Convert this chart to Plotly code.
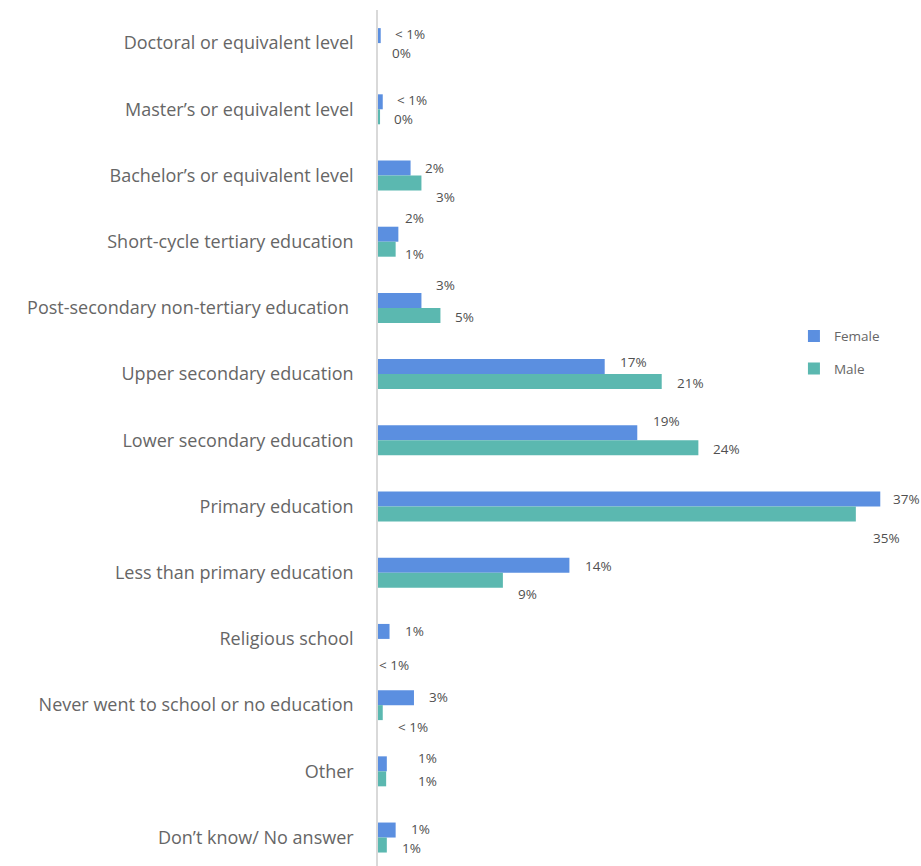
import plotly.graph_objects as go

# Highest level of education completed, by sex (% of respondents)
categories = [
    "Doctoral or equivalent level",
    "Master\u2019s or equivalent level",
    "Bachelor\u2019s or equivalent level",
    "Short-cycle tertiary education",
    "Post-secondary non-tertiary education ",
    "Upper secondary education",
    "Lower secondary education",
    "Primary education",
    "Less than primary education",
    "Religious school",
    "Never went to school or no education",
    "Other",
    "Don\u2019t know/ No answer",
]
female = [0.2, 0.35, 2.4, 1.5, 3.2, 16.7, 19.1, 37.0, 14.1, 0.85, 2.65, 0.65, 1.3]
male = [0.0, 0.15, 3.2, 1.3, 4.6, 20.9, 23.6, 35.2, 9.2, 0.0, 0.35, 0.6, 0.65]
female_labels = ["< 1%", "< 1%", "2%", "2%", "3%", "17%", "19%", "37%", "14%", "1%", "3%", "1%", "1%"]
male_labels = ["0%", "0%", "3%", "1%", "5%", "21%", "24%", "35%", "9%", "< 1%", "< 1%", "1%", "1%"]

# Label placement tweaks (pixels): horizontal gap after bar end, vertical shift
female_dx = [12, 12, 12, 5, 13, 13, 14, 11, 14, 13, 13, 29, 13]
female_dy = [2, 2, 0, 16, 15, 5, 12, 0, -1, 0, 1, 6, 1]
male_dx = [12, 12, 13, 7, 13, 13, 13, 15, 13, -1, 13, 30, 13]
male_dy = [-2, -2, -14, -5, -2, -1, -1, -24, -14, -19, -14, -2, -3]

FEMALE_COLOR = "#5B8FE0"
MALE_COLOR = "#5BB8B0"
FONT = "'Open Sans', Lato, sans-serif"

fig = go.Figure()
fig.add_trace(go.Bar(
    y=categories, x=female, orientation="h", name="Female",
    marker=dict(color=FEMALE_COLOR, line=dict(width=0)),
    legendgroup="f", offsetgroup="f",
))
fig.add_trace(go.Bar(
    y=categories, x=male, orientation="h", name="Male",
    marker=dict(color=MALE_COLOR, line=dict(width=0)),
    legendgroup="m", offsetgroup="m",
))

# Value labels: anchored at each bar's end, nudged into place
bar_half = 0.113  # half of a bar's thickness in category units
annotations = []
for i, cat in enumerate(categories):
    annotations.append(dict(
        x=female[i], y=i - bar_half, xref="x", yref="y", text=female_labels[i],
        showarrow=False, xanchor="left", yanchor="middle",
        xshift=female_dx[i], yshift=female_dy[i],
        font=dict(family=FONT, size=13.5, color="#505050"),
    ))
    annotations.append(dict(
        x=male[i], y=i + bar_half, xref="x", yref="y", text=male_labels[i],
        showarrow=False, xanchor="left", yanchor="middle",
        xshift=male_dx[i], yshift=male_dy[i],
        font=dict(family=FONT, size=13.5, color="#505050"),
    ))

fig.update_layout(
    width=921, height=866,
    margin=dict(l=378, r=0, t=10, b=0),
    paper_bgcolor="white", plot_bgcolor="white",
    barmode="group", bargap=0.547, bargroupgap=0,
    font=dict(family=FONT, color="#666666"),
    showlegend=True,
    legend=dict(
        x=0.766, y=0.637, xanchor="left", yanchor="top",
        font=dict(family=FONT, size=13.5, color="#666666"),
        tracegroupgap=12, traceorder="grouped",
        itemwidth=30, bgcolor="rgba(0,0,0,0)",
    ),
    annotations=annotations,
)
fig.update_xaxes(
    range=[0, 40], showgrid=False, zeroline=False, showticklabels=False,
    showline=False, fixedrange=True,
)
fig.update_yaxes(
    type="category", categoryorder="array", categoryarray=categories,
    range=[12.43, -0.5], showgrid=False, zeroline=False,
    showline=True, linecolor="#D9D9D9", linewidth=1.5,
    ticks="", ticklabelstandoff=19,
    tickfont=dict(family=FONT, size=18, color="#666666"),
    automargin=False, fixedrange=True,
)

fig.write_html("out.html")
